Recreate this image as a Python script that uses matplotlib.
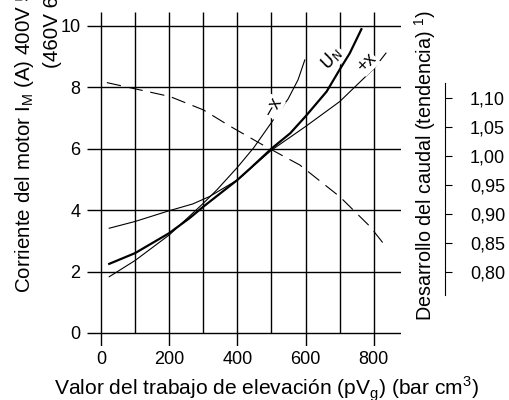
import numpy as np
import matplotlib.pyplot as plt

plt.rcParams['font.family'] = ['Liberation Sans', 'DejaVu Sans']

# Curves (x in bar cm3, y in A)
xUn = [24, 100, 200, 260, 300, 400, 438, 500, 555, 600, 662, 700, 730, 764]
yUn = [2.25, 2.60, 3.25, 3.74, 4.11, 4.98, 5.36, 6.00, 6.50, 7.05, 7.86, 8.57, 9.11, 9.89]

xMinus = [24, 100, 200, 269, 300, 340, 400, 448, 500, 549, 578, 598]
yMinus = [1.83, 2.36, 3.19, 3.90, 4.22, 4.66, 5.39, 6.03, 6.85, 7.62, 8.24, 8.89]

xPlus = [24, 100, 200, 269, 318, 400, 500, 600, 700, 800, 836]
yPlus = [3.41, 3.63, 3.98, 4.20, 4.44, 4.98, 5.95, 6.72, 7.53, 8.60, 9.11]

# flow trend (right axis)
xFlow = [17, 202, 300, 378, 476, 583, 701, 789, 836]
yFlow = [1.126, 1.102, 1.079, 1.051, 1.018, 0.984, 0.929, 0.878, 0.843]

xTicks = [0, 200, 400, 600, 800]
xMinor = [100, 300, 500, 700]
yTicks = [0, 2, 4, 6, 8, 10]
flowTicks = [0.80, 0.85, 0.90, 0.95, 1.00, 1.05, 1.10]

fig = plt.figure(figsize=(5.09, 4.00), dpi=100)
ax = fig.add_axes([0.1717, 0.1353, 0.616, 0.8348])
ax.set_xlim(-40, 880)
ax.set_ylim(-0.42, 10.45)
for s in ax.spines.values():
    s.set_visible(False)
ax.tick_params(length=0, labelsize=13)
ax.tick_params(axis='y', pad=5)
ax.tick_params(axis='x', pad=4)

# grid drawn by hand: majors run below the zero line
ax.vlines(xTicks, -0.42, 10.45, color='black', lw=1.0)
ax.vlines(xMinor, 0, 10.45, color='black', lw=1.0)
ax.hlines(yTicks, -40, 880, color='black', lw=1.0)
ax.set_xticks(xTicks)
ax.set_yticks(yTicks)

ax.plot(xUn, yUn, color='black', lw=1.6)
ax.plot(xMinus, yMinus, color='black', lw=0.8)
ax.plot(xPlus, yPlus, color='black', lw=0.8)

bbox = dict(facecolor='white', edgecolor='none', pad=0.5)
ax.text(677, 8.95, '$U_N$', rotation=55, ha='center', va='center', fontsize=12.5, bbox=bbox)
ax.text(780, 8.79, '+x', rotation=45, ha='center', va='center', fontsize=13, bbox=bbox)
ax.text(504, 7.36, '\u2212x', rotation=60, ha='center', va='center', fontsize=13, bbox=bbox)

ax2 = ax.twinx()
ax2.set_ylim(0.672, 1.2478)
for s in ['top', 'left', 'bottom']:
    ax2.spines[s].set_visible(False)
ax2.spines['right'].set_position(('axes', 1.14))
ax2.spines['right'].set_bounds(0.759, 1.125)
ax2.set_yticks(flowTicks)
ax2.set_yticklabels([('%.2f' % v).replace('.', ',') for v in flowTicks])
ax2.tick_params(axis='y', length=5, labelsize=13, pad=13)
ax2.plot(xFlow, yFlow, color='black', lw=0.8, ls=(0, (13, 7)))

fig.text(0.523, 0.0275, 'Valor del trabajo de elevación (pV$_\\mathregular{g}$) (bar cm$^\\mathregular{3}$)',
         ha='center', va='center', fontsize=15.1)
fig.text(0.073, 0.267, 'Corriente del motor I$_\\mathregular{M}$ (A) 400V 50 Hz\n(460V 60 Hz)',
         rotation=90, ha='center', va='bottom', multialignment='right', fontsize=14.8, linespacing=1.45)
fig.text(0.835, 0.5875, 'Desarrollo del caudal (tendencia) $^\\mathregular{1}$)',
         rotation=90, ha='center', va='center', fontsize=14.2)

fig.savefig('out.png', dpi=100)
